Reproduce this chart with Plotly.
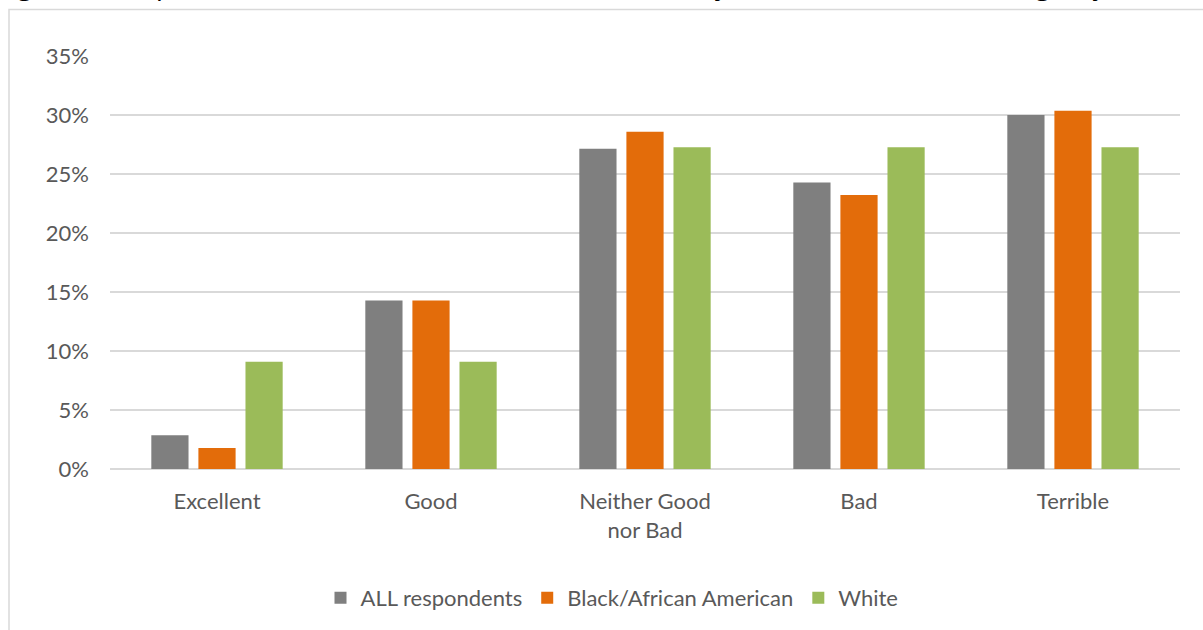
import plotly.graph_objects as go

# Survey categories and share of responses per group
categories = ["Excellent", "Good", "Neither Good<br>nor Bad", "Bad", "Terrible"]
all_respondents = [0.0286, 0.1429, 0.2714, 0.2429, 0.3000]
black_african_american = [0.0179, 0.1429, 0.2857, 0.2321, 0.3036]
white = [0.0909, 0.0909, 0.2727, 0.2727, 0.2727]

series_names = ["ALL respondents", "Black/African American", "White"]
series_colors = ["#7f7f7f", "#e36c0a", "#9bbb59"]

y_ticks = [0, 0.05, 0.10, 0.15, 0.20, 0.25, 0.30, 0.35]
y_tick_labels = ["0%", "5%", "10%", "15%", "20%", "25%", "30%", "35%"]

title_text = ('Figure 1: Responses to Question 1: "Overall, how well do you think '
              'the BPD is doing its job to')

W, H = 1203, 630
L, R, T, B = 110, 23, 56, 160
plot_w = W - L - R
plot_h = H - T - B

font_family = "Lato, 'Open Sans', sans-serif"
text_color = "#595959"

fig = go.Figure()
for name, vals, color in zip(series_names,
                             [all_respondents, black_african_american, white],
                             series_colors):
    fig.add_trace(go.Bar(
        x=categories, y=vals, name=name,
        marker=dict(color=color, line=dict(width=0)),
    ))


def px_x(p):
    return (p - L) / plot_w


def px_y(p):
    return (H - B - p) / plot_h


fig.update_layout(
    width=W, height=H,
    margin=dict(l=L, r=R, t=T, b=B),
    paper_bgcolor="white", plot_bgcolor="white",
    barmode="group", bargap=0.34, bargroupgap=0.21,
    font=dict(family=font_family, size=22, color=text_color),
    showlegend=True,
    legend=dict(
        orientation="h", x=px_x(612), xanchor="center",
        y=px_y(598), yanchor="middle",
        font=dict(size=22, color=text_color),
        itemsizing="constant", traceorder="normal",
    ),
    xaxis=dict(
        showgrid=False, showline=False, zeroline=False, ticks="",
        tickfont=dict(size=22, color=text_color),
        ticklabelstandoff=17,
    ),
    yaxis=dict(
        range=[0, 0.35], tickvals=y_ticks, ticktext=y_tick_labels,
        showgrid=True, gridcolor="#d9d9d9", gridwidth=1.5,
        zeroline=True, zerolinecolor="#d9d9d9", zerolinewidth=1.5,
        showline=False, ticks="",
        tickfont=dict(size=22, color=text_color),
        ticklabelstandoff=20,
    ),
    shapes=[
        # chart frame, extending past the visible window on the right and bottom
        dict(type="rect", xref="paper", yref="paper",
             x0=px_x(9), x1=px_x(1300), y0=px_y(700), y1=px_y(9.5),
             line=dict(color="#d9d9d9", width=1.5), fillcolor="rgba(0,0,0,0)",
             layer="below"),
    ],
    annotations=[
        # figure caption sitting above the frame, partly outside the page
        dict(text="<i>" + title_text + "</i>", xref="paper", yref="paper",
             x=px_x(-4), xanchor="left", y=px_y(4), yanchor="bottom",
             showarrow=False,
             font=dict(size=29, color="#000000", family="'Open Sans', sans-serif")),
    ],
)

fig.write_html("out.html")
